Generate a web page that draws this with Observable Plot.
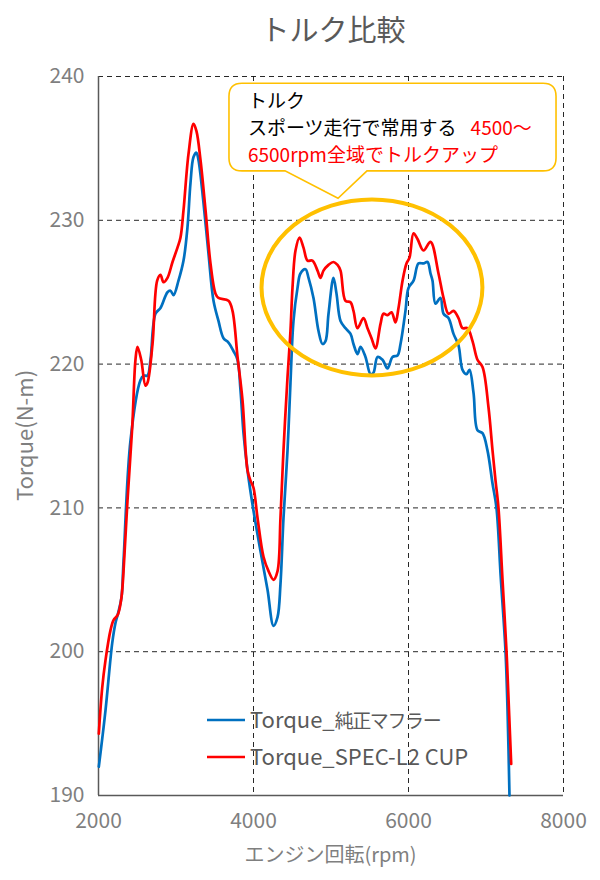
<!DOCTYPE html>
<html><head><meta charset="utf-8">
<script src="https://cdn.jsdelivr.net/npm/d3@7"></script>
<script src="https://cdn.jsdelivr.net/npm/@observablehq/plot@0.6"></script>
<style>
body{margin:0;background:#fff;font-family:"Noto Sans CJK JP","Noto Sans",sans-serif;}
#wrap{position:relative;width:600px;height:880px;overflow:hidden;}
#title{position:absolute;left:98px;width:470px;top:0;height:56px;line-height:56px;text-align:center;font-size:29px;color:#595959;}
#chart{position:absolute;left:0;top:56px;}
</style></head><body>
<div id="wrap"><div id="title">トルク比較</div><div id="chart"></div></div>
<script>
const seriesNames = ["Torque_純正マフラー", "Torque_SPEC-L2 CUP"];
const seriesColors = ["#0070C0", "#FF0000"];
const xTicks = [2000, 4000, 6000, 8000];
const yTicks = [190, 200, 210, 220, 230, 240];
const xLabel = "エンジン回転(rpm)";
const yLabel = "Torque(N-m)";

const rpmStock = [2004,2090,2177,2219,2254,2297,2323,2413,2542,2581,2632,2671,2735,2800,2890,2929,2968,3032,3097,3148,3187,3226,3264,3290,3355,3419,3484,3548,3613,3677,3742,3794,3832,3871,3923,4000,4090,4181,4258,4310,4348,4387,4439,4477,4516,4568,4606,4671,4710,4774,4839,4890,4929,4968,5032,5071,5123,5187,5252,5290,5342,5381,5445,5510,5548,5600,5665,5729,5794,5858,5897,5961,6000,6065,6129,6194,6245,6284,6310,6348,6413,6452,6516,6581,6645,6697,6748,6787,6839,6890,6955,7019,7084,7135,7190,7252,7280,7303];
const torqueStock = [192.0,195.9,200.6,202.0,202.7,203.8,206.3,214.7,218.9,219.2,219.2,220.3,223.5,223.9,225.0,225.1,224.8,225.8,227.2,229.5,232.6,234.4,234.7,234.2,231.2,227.7,224.4,223.0,221.8,221.5,220.9,220.3,218.2,215.2,212.6,209.8,207.0,204.3,201.8,202.4,204.7,209.3,214.0,218.7,223.0,225.3,226.3,226.6,226.0,224.6,222.3,221.4,221.6,223.5,226.0,224.9,223.0,222.5,222.1,221.4,220.7,221.2,220.5,219.3,219.4,220.5,220.3,219.7,220.5,220.6,221.4,223.7,225.3,225.8,227.0,227.0,227.1,226.3,225.8,224.2,224.6,223.5,223.2,222.1,221.3,219.6,219.3,219.6,218.0,215.4,215.2,214.0,211.7,210.0,205.2,200.0,195.5,190.0];

const rpmSpec = [2004,2048,2090,2155,2194,2241,2258,2297,2323,2374,2435,2477,2503,2551,2606,2632,2697,2757,2800,2839,2890,2955,3019,3058,3097,3161,3226,3264,3316,3381,3445,3510,3548,3677,3729,3794,3858,3923,3961,4000,4052,4129,4194,4258,4310,4348,4387,4439,4477,4503,4542,4594,4645,4697,4761,4826,4865,4903,4968,5032,5084,5123,5187,5252,5290,5342,5419,5471,5523,5574,5639,5677,5729,5781,5832,5871,5923,5974,6013,6065,6116,6194,6284,6387,6452,6516,6581,6645,6697,6761,6826,6890,6955,7032,7084,7123,7161,7213,7265,7300,7325];
const torqueSpec = [194.3,197.5,199.4,201.5,202.2,202.5,202.7,203.8,205.6,210.5,215.6,220.3,221.2,220.3,218.5,218.7,221.4,225.8,226.2,225.7,226.0,227.1,228.1,228.8,230.7,234.6,236.7,236.2,234.2,230.7,227.0,224.9,224.6,224.4,223.7,220.5,217.5,212.6,211.9,211.4,209.3,206.6,205.6,205.0,205.6,209.3,214.0,219.1,222.3,225.3,227.9,228.8,228.1,227.2,227.2,226.5,226.0,226.5,226.9,227.1,226.9,226.5,224.4,224.3,223.7,222.5,223.2,222.5,221.8,221.1,222.8,223.5,223.4,223.6,222.9,223.9,225.8,227.0,227.4,229.1,228.7,227.9,228.5,226.3,224.6,223.5,223.7,223.2,222.5,222.5,221.6,220.3,219.8,217.0,214.0,211.9,210.0,205.0,200.0,195.5,192.2];

// annotation (data coordinates)
const noteBox = [3690, 239.5, 7910, 233.4];       // x0, yTop, x1, yBottom
const notePointer = [4413, 5097, 231.5, 5471];     // baseLeft, tipX, tipY, baseRight
const noteLine1 = "トルク";
const noteLine2Black = "スポーツ走行で常用する";
const noteLine2Red = "4500～";
const noteLine3 = "6500rpm全域でトルクアップ";
const ellipseCenter = [5535, 225.3];
const ellipseRadius = [1425, 6.12];

const rows = [];
rpmStock.forEach((r, i) => rows.push({series: seriesNames[0], rpm: r, torque: torqueStock[i]}));
rpmSpec.forEach((r, i) => rows.push({series: seriesNames[1], rpm: r, torque: torqueSpec[i]}));

const font = '"Noto Sans CJK JP","Noto Sans",sans-serif';
const plot = Plot.plot({
  width: 600, height: 824,
  marginLeft: 98, marginRight: 37, marginTop: 20, marginBottom: 85,
  style: {fontFamily: font, fontSize: "21px", color: "#7f7f7f", background: "transparent", overflow: "visible"},
  x: {domain: [2000, 8000]},
  y: {domain: [190, 240]},
  color: {domain: seriesNames, range: seriesColors},
  marks: [
    Plot.gridX([4000, 6000, 8000], {stroke: "#111", strokeOpacity: 0.9, strokeDasharray: "5,4", strokeWidth: 1}),
    Plot.gridY([200, 210, 220, 230, 240], {stroke: "#111", strokeOpacity: 0.9, strokeDasharray: "5,4", strokeWidth: 1}),
    Plot.ruleX([2000], {stroke: "#595959", strokeWidth: 1.5}),
    Plot.ruleY([190], {stroke: "#595959", strokeWidth: 1.5}),
    Plot.axisX(xTicks, {tickSize: 0, tickPadding: 18, label: null, fill: "#7f7f7f", tickFormat: d => String(d)}),
    Plot.axisY(yTicks, {tickSize: 0, tickPadding: 14, label: null, fill: "#7f7f7f"}),
    Plot.line(rows, {x: "rpm", y: "torque", z: "series", stroke: "series", strokeWidth: 2.7, curve: "catmull-rom"})
  ]
});
document.getElementById("chart").appendChild(plot);

const svg = d3.select(plot);
const sx = plot.scale("x"), sy = plot.scale("y");
const X = v => sx.apply(v), Y = v => sy.apply(v);

// ellipse
svg.append("ellipse")
  .attr("cx", X(ellipseCenter[0])).attr("cy", Y(ellipseCenter[1]))
  .attr("rx", X(ellipseCenter[0] + ellipseRadius[0]) - X(ellipseCenter[0]))
  .attr("ry", Y(ellipseCenter[1] - ellipseRadius[1]) - Y(ellipseCenter[1]))
  .attr("fill", "none").attr("stroke", "#FFC000").attr("stroke-width", 4);

// callout
const bx0 = X(noteBox[0]), by0 = Y(noteBox[1]), bx1 = X(noteBox[2]), by1 = Y(noteBox[3]);
const pl = X(notePointer[0]), tx = X(notePointer[1]), ty = Y(notePointer[2]), pr = X(notePointer[3]);
const r = 13;
const p = `M${bx0 + r},${by0} L${bx1 - r},${by0} Q${bx1},${by0} ${bx1},${by0 + r} L${bx1},${by1 - r} Q${bx1},${by1} ${bx1 - r},${by1} L${pr},${by1} L${tx},${ty} L${pl},${by1} L${bx0 + r},${by1} Q${bx0},${by1} ${bx0},${by1 - r} L${bx0},${by0 + r} Q${bx0},${by0} ${bx0 + r},${by0} Z`;
svg.append("path").attr("d", p).attr("fill", "#fff").attr("stroke", "#FFC000").attr("stroke-width", 1.6);
const tg = svg.append("g").attr("font-family", font).attr("font-size", 19).attr("text-anchor", "start");
const lx = bx0 + 19;
tg.append("text").attr("x", lx).attr("y", by0 + 18).attr("dy", "0.35em").attr("fill", "#000").text(noteLine1);
const t2 = tg.append("text").attr("x", lx).attr("y", by0 + 45).attr("dy", "0.35em");
t2.append("tspan").attr("fill", "#000").text(noteLine2Black);
t2.append("tspan").attr("fill", "#FF0000").attr("dx", 14).text(noteLine2Red);
tg.append("text").attr("x", lx).attr("y", by0 + 72).attr("dy", "0.35em").attr("fill", "#FF0000").text(noteLine3);

// legend (inside plot, lower left)
const lg = svg.append("g").attr("font-family", font).attr("font-size", 22).attr("text-anchor", "start");
seriesNames.forEach((name, i) => {
  const yy = 664 + i * 37;
  lg.append("line").attr("x1", 207).attr("x2", 245).attr("y1", yy).attr("y2", yy)
    .attr("stroke", seriesColors[i]).attr("stroke-width", 2.7);
  const t = lg.append("text").attr("x", 250).attr("y", yy).attr("dy", "0.35em").attr("fill", "#595959");
  name.split(/([\u3000-\u9fff\uff00-\uffef]+)/).filter(s => s).forEach(part => {
    const cjk = /[\u3000-\u9fff\uff00-\uffef]/.test(part);
    const ts = t.append("tspan").text(part);
    if (cjk) ts.attr("font-size", 19).attr("letter-spacing", "-1.4px");
  });
});

// axis titles
svg.append("text").attr("x", (X(2000) + X(8000)) / 2).attr("y", 799).attr("dy", "0.35em")
  .attr("text-anchor", "middle").attr("font-family", font).attr("font-size", 20).attr("fill", "#7f7f7f").text(xLabel);
svg.append("text").attr("transform", `translate(25,${(Y(190) + Y(240)) / 2}) rotate(-90)`).attr("dy", "0.35em")
  .attr("text-anchor", "middle").attr("font-family", font).attr("font-size", 22).attr("fill", "#7f7f7f").text(yLabel);
</script>
</body></html>
